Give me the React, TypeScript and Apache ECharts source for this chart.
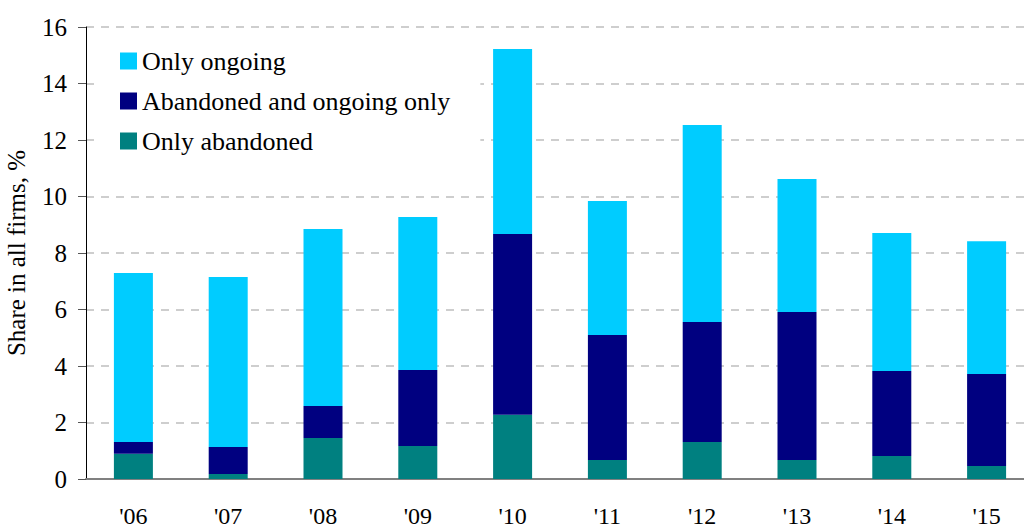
import React, { useEffect, useRef } from "react";
import * as echarts from "echarts";

const years = ["'06", "'07", "'08", "'09", "'10", "'11", "'12", "'13", "'14", "'15"];
const onlyAbandoned = [0.89, 0.18, 1.45, 1.17, 2.27, 0.67, 1.31, 0.67, 0.81, 0.46];
const abandonedAndOngoing = [0.42, 0.95, 1.13, 2.69, 6.4, 4.43, 4.25, 5.24, 3.01, 3.26];
const onlyOngoing = [5.98, 6.02, 6.27, 5.41, 6.55, 4.74, 6.97, 4.71, 4.89, 4.7];
const yTicks = { min: 0, max: 16, interval: 2 };

const FONT = "Liberation Serif";

export default function App() {
  const ref = useRef<HTMLDivElement>(null);
  useEffect(() => {
    if (!ref.current) return;
    const chart = echarts.init(ref.current, undefined, { renderer: "svg" });
    chart.setOption({
      animation: false,
      backgroundColor: "#ffffff",
      textStyle: { fontFamily: FONT },
      grid: { left: 86, right: -10, top: 27, bottom: 49, outerBoundsMode: "none", containLabel: false },
      legend: {
        orient: "vertical",
        left: 95,
        top: 35,
        padding: [13, 30, 21, 25],
        backgroundColor: "#ffffff",
        itemWidth: 17,
        itemHeight: 17,
        itemGap: 14,
        icon: "rect",
        selectedMode: false,
        data: ["Only ongoing", "Abandoned and ongoing only", "Only abandoned"],
        textStyle: { fontFamily: FONT, fontSize: 26, lineHeight: 26, color: "#000" },
      },
      xAxis: {
        type: "category",
        data: years,
        axisLine: { lineStyle: { color: "#808080", width: 2 } },
        axisTick: { show: false },
        axisLabel: { fontFamily: FONT, fontSize: 24, color: "#000", margin: 25 },
      },
      yAxis: {
        type: "value",
        min: yTicks.min,
        max: yTicks.max,
        interval: yTicks.interval,
        name: "Share in all firms, %",
        nameLocation: "middle",
        nameGap: 57,
        nameTextStyle: { fontFamily: FONT, fontSize: 25, color: "#000" },
        axisLine: { show: true, lineStyle: { color: "#000", width: 1 } },
        axisTick: { show: true, length: 8, lineStyle: { color: "#555" } },
        axisLabel: { fontFamily: FONT, fontSize: 25, color: "#000", margin: 19 },
        splitLine: { show: true, lineStyle: { color: "#BFBFBF", type: [8, 7], width: 1.5 } },
      },
      series: [
        {
          name: "Only abandoned",
          type: "bar",
          stack: "s",
          barWidth: 39,
          data: onlyAbandoned,
          itemStyle: { color: "#008080" },
        },
        {
          name: "Abandoned and ongoing only",
          type: "bar",
          stack: "s",
          barWidth: 39,
          data: abandonedAndOngoing,
          itemStyle: { color: "#000080" },
        },
        {
          name: "Only ongoing",
          type: "bar",
          stack: "s",
          barWidth: 39,
          data: onlyOngoing,
          itemStyle: { color: "#00CCFF" },
        },
      ],
    });
    return () => chart.dispose();
  }, []);
  return (
    <div
      ref={ref}
      style={{ position: "absolute", left: 0, top: 0, width: 1024, height: 528 }}
    />
  );
}
